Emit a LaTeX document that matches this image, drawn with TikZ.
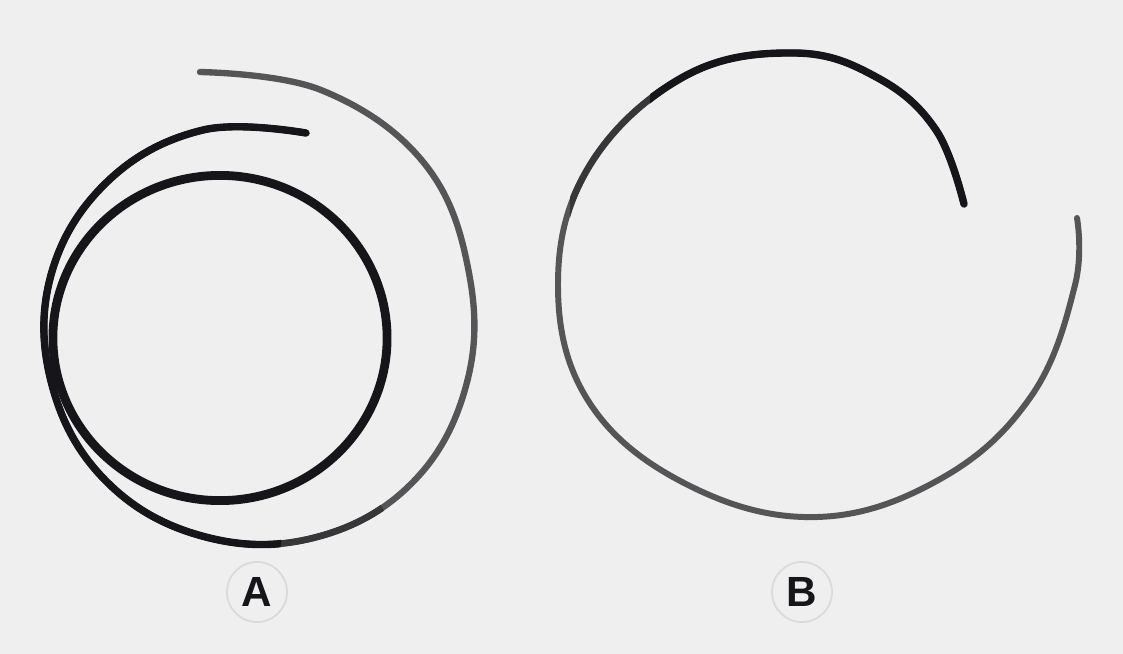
\documentclass[tikz,border=0pt]{standalone}
\usepackage{fontspec}
\setmainfont{Liberation Sans}
\definecolor{paper}{RGB}{239,239,239}
\definecolor{inkdark}{RGB}{22,22,26}
\definecolor{inkmid}{RGB}{55,55,58}
\definecolor{inkgray}{RGB}{85,85,88}
\definecolor{ringgray}{RGB}{218,218,218}
\usetikzlibrary{positioning}
\tikzset{
  wire/.style={draw=#1, line cap=round, line join=round},
  tag/.style={circle, draw=ringgray, line width=0.5pt, minimum size=0.6cm,
              inner sep=0pt, text=inkdark, font=\fontsize{12}{14}\selectfont\bfseries},
}
% points of the two coils, in pixels
\def\coilA{(306,133) (203,130) (108,181) (51,275) (52,385) (106,481) (202,536)
  (313,538) (411,484) (466,386) (469,273) (424,163) (321,90) (200,72)}
\def\coilB{(964,204) (936,130) (878,78) (795,53) (685,76) (590,165) (558,283)
  (589,402) (688,485) (817,517) (942,478) (1032,395) (1075,285) (1077,218)}

\begin{document}
\begin{tikzpicture}[x=0.01cm, y=-0.01cm]
  % Paper
  \fill[paper] (0,0) rectangle (1123,654);
  \useasboundingbox (0,0) rectangle (1123,654);

  % Spiral A: outer turn, grey first then darker parts on top
  \draw[wire=inkgray, line width=1.8pt] plot[smooth, tension=0.66] coordinates {\coilA};
  \begin{scope}
    \clip (0,100) -- (330,100) -- (330,420) -- (470,654) -- (0,654) -- cycle;
    \draw[wire=inkmid, line width=1.9pt] plot[smooth, tension=0.66] coordinates {\coilA};
  \end{scope}
  \begin{scope}
    \clip (0,100) -- (325,100) -- (270,654) -- (0,654) -- cycle;
    \draw[wire=inkdark, line width=2.1pt] plot[smooth, tension=0.66] coordinates {\coilA};
  \end{scope}
  % Spiral A: inner loop
  \draw[wire=inkdark, line width=2.5pt] (220,338) ellipse [x radius=1.67cm, y radius=1.625cm];

  % Spiral B
  \draw[wire=inkgray, line width=1.7pt] plot[smooth, tension=0.66] coordinates {\coilB};
  \begin{scope}
    \clip (570,0) rectangle (1010,260);
    \draw[wire=inkmid, line width=1.9pt] plot[smooth, tension=0.66] coordinates {\coilB};
  \end{scope}
  \begin{scope}
    \clip (650,0) rectangle (1010,240);
    \draw[wire=inkdark, line width=2.1pt] plot[smooth, tension=0.66] coordinates {\coilB};
  \end{scope}

  % Labels
  \node[tag] (labA) at (257,592) {A};
  \node[tag] (labB) at (802,592) {B};
\end{tikzpicture}
\end{document}
